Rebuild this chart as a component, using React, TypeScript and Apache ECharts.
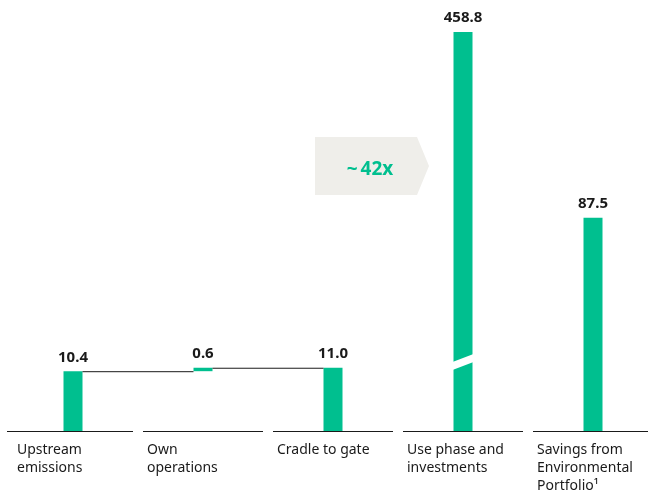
import React, { useEffect, useRef } from "react";
import * as echarts from "echarts";

// Carbon footprint stages (Mt CO2e) and the environmental-portfolio savings
const categories = [
  "Upstream\nemissions",
  "Own\noperations",
  "Cradle to gate",
  "Use phase and\ninvestments",
  "Savings from\nEnvironmental\nPortfolio¹",
];
const values = [10.4, 0.6, 11.0, 458.8, 87.5];
// where each bar starts (own operations sits on top of upstream emissions)
const floatBase = [0, 10.4, 0, 0, 0];
const multipleLabel = "~42x";

// the value axis is compressed in two places so the small stages stay readable
const axisBreaks = [
  { start: 12, end: 85, gap: 22.6 },
  { start: 90, end: 455, gap: 26 },
];

const GREEN = "#00bf8f";
const INK = "#1a1a1a";
const FONT = "'Noto Sans', 'Open Sans', sans-serif";
const BAR_W = 19;

export default function App() {
  const ref = useRef<HTMLDivElement>(null);

  useEffect(() => {
    if (!ref.current) return;
    const chart = echarts.init(ref.current, undefined, { renderer: "svg" });

    const renderItem = (params: any, api: any) => {
      const i = api.value(0) as number;
      const [cx, y0] = api.coord([i, 0]);
      const band = api.size([1, 0])[0] as number;
      const left = cx - band / 2;
      const children: any[] = [];

      // baseline segment under each category
      children.push({
        type: "line",
        shape: { x1: left + (i === 0 ? -1 : 5), y1: y0 + 0.5, x2: left + band - 5, y2: y0 + 0.5 },
        style: { stroke: INK, lineWidth: 1 },
      });

      // category label, left-aligned within its band
      children.push({
        type: "text",
        style: {
          text: categories[i],
          x: left + 9,
          y: y0 + 8,
          align: "left",
          verticalAlign: "top",
          fontSize: 14,
          lineHeight: 18,
          fontFamily: FONT,
          fill: INK,
        },
      });

      // step connector from this bar's top to the next bar (first two stages)
      if (i < 2) {
        const level = floatBase[i] + values[i];
        const [, yl] = api.coord([i, level]);
        const [nx] = api.coord([i + 1, level]);
        children.push({
          type: "line",
          shape: { x1: cx + BAR_W / 2, y1: yl + 0.5, x2: nx - BAR_W / 2, y2: yl + 0.5 },
          style: { stroke: INK, lineWidth: 1 },
        });
      }

      // break mark on a bar that runs through the large axis break
      if (floatBase[i] + values[i] > axisBreaks[1].end) {
        const [, yc] = api.coord([i, axisBreaks[0].start]);
        const x0 = cx - BAR_W / 2 - 1;
        const x1 = cx + BAR_W / 2 + 1;
        const tilt = 4;
        const half = 4;
        children.push({
          type: "polygon",
          shape: {
            points: [
              [x0, yc + tilt - half],
              [x1, yc - tilt - half],
              [x1, yc - tilt + half],
              [x0, yc + tilt + half],
            ],
          },
          style: { fill: "#ffffff" },
        });
      }

      return { type: "group", children };
    };

    chart.setOption({
      animation: false,
      grid: { left: 8, width: 650, top: 25, bottom: 62, outerBoundsMode: "none" },
      xAxis: {
        type: "category",
        data: categories,
        axisLine: { show: false },
        axisTick: { show: false },
        axisLabel: { show: false },
        splitLine: { show: false },
      },
      yAxis: {
        type: "value",
        min: 0,
        max: 460,
        axisLine: { show: false },
        axisTick: { show: false },
        axisLabel: { show: false },
        splitLine: { show: false },
        breaks: axisBreaks,
        breakArea: {
          show: false,
          itemStyle: { opacity: 0, borderWidth: 0 },
        },
      },
      series: [
        {
          type: "bar",
          stack: "stage",
          data: floatBase,
          barWidth: BAR_W,
          itemStyle: { color: "transparent" },
          silent: true,
        },
        {
          type: "bar",
          stack: "stage",
          data: values,
          barWidth: BAR_W,
          itemStyle: { color: GREEN },
          label: {
            show: true,
            position: "top",
            distance: 8,
            formatter: (p: any) => Number(p.value).toFixed(1),
            fontFamily: FONT,
            fontWeight: "bold",
            fontSize: 15,
            color: INK,
          },
        },
        {
          type: "custom",
          data: categories.map((_, i) => [i]),
          renderItem,
          z: 5,
          silent: true,
        },
      ],
      graphic: [
        {
          type: "polygon",
          shape: {
            points: [
              [315, 137],
              [417, 137],
              [429, 166],
              [417, 195],
              [315, 195],
            ],
          },
          style: { fill: "#efeeea" },
        },
        {
          type: "text",
          x: 370,
          y: 167.5,
          style: {
            text: "{t|" + multipleLabel.slice(0, 1) + "}" + multipleLabel.slice(1),
            align: "center",
            verticalAlign: "middle",
            fontFamily: FONT,
            fontWeight: "bold",
            fontSize: 19,
            fill: GREEN,
            rich: {
              t: {
                fontFamily: FONT,
                fontWeight: "bold",
                fontSize: 19,
                fill: GREEN,
                padding: [0, 3, 0, 0],
              },
            },
          },
        },
      ],
    });

    return () => chart.dispose();
  }, []);

  return (
    <div
      ref={ref}
      style={{ position: "fixed", left: 0, top: 0, width: 648, height: 493 }}
    />
  );
}
